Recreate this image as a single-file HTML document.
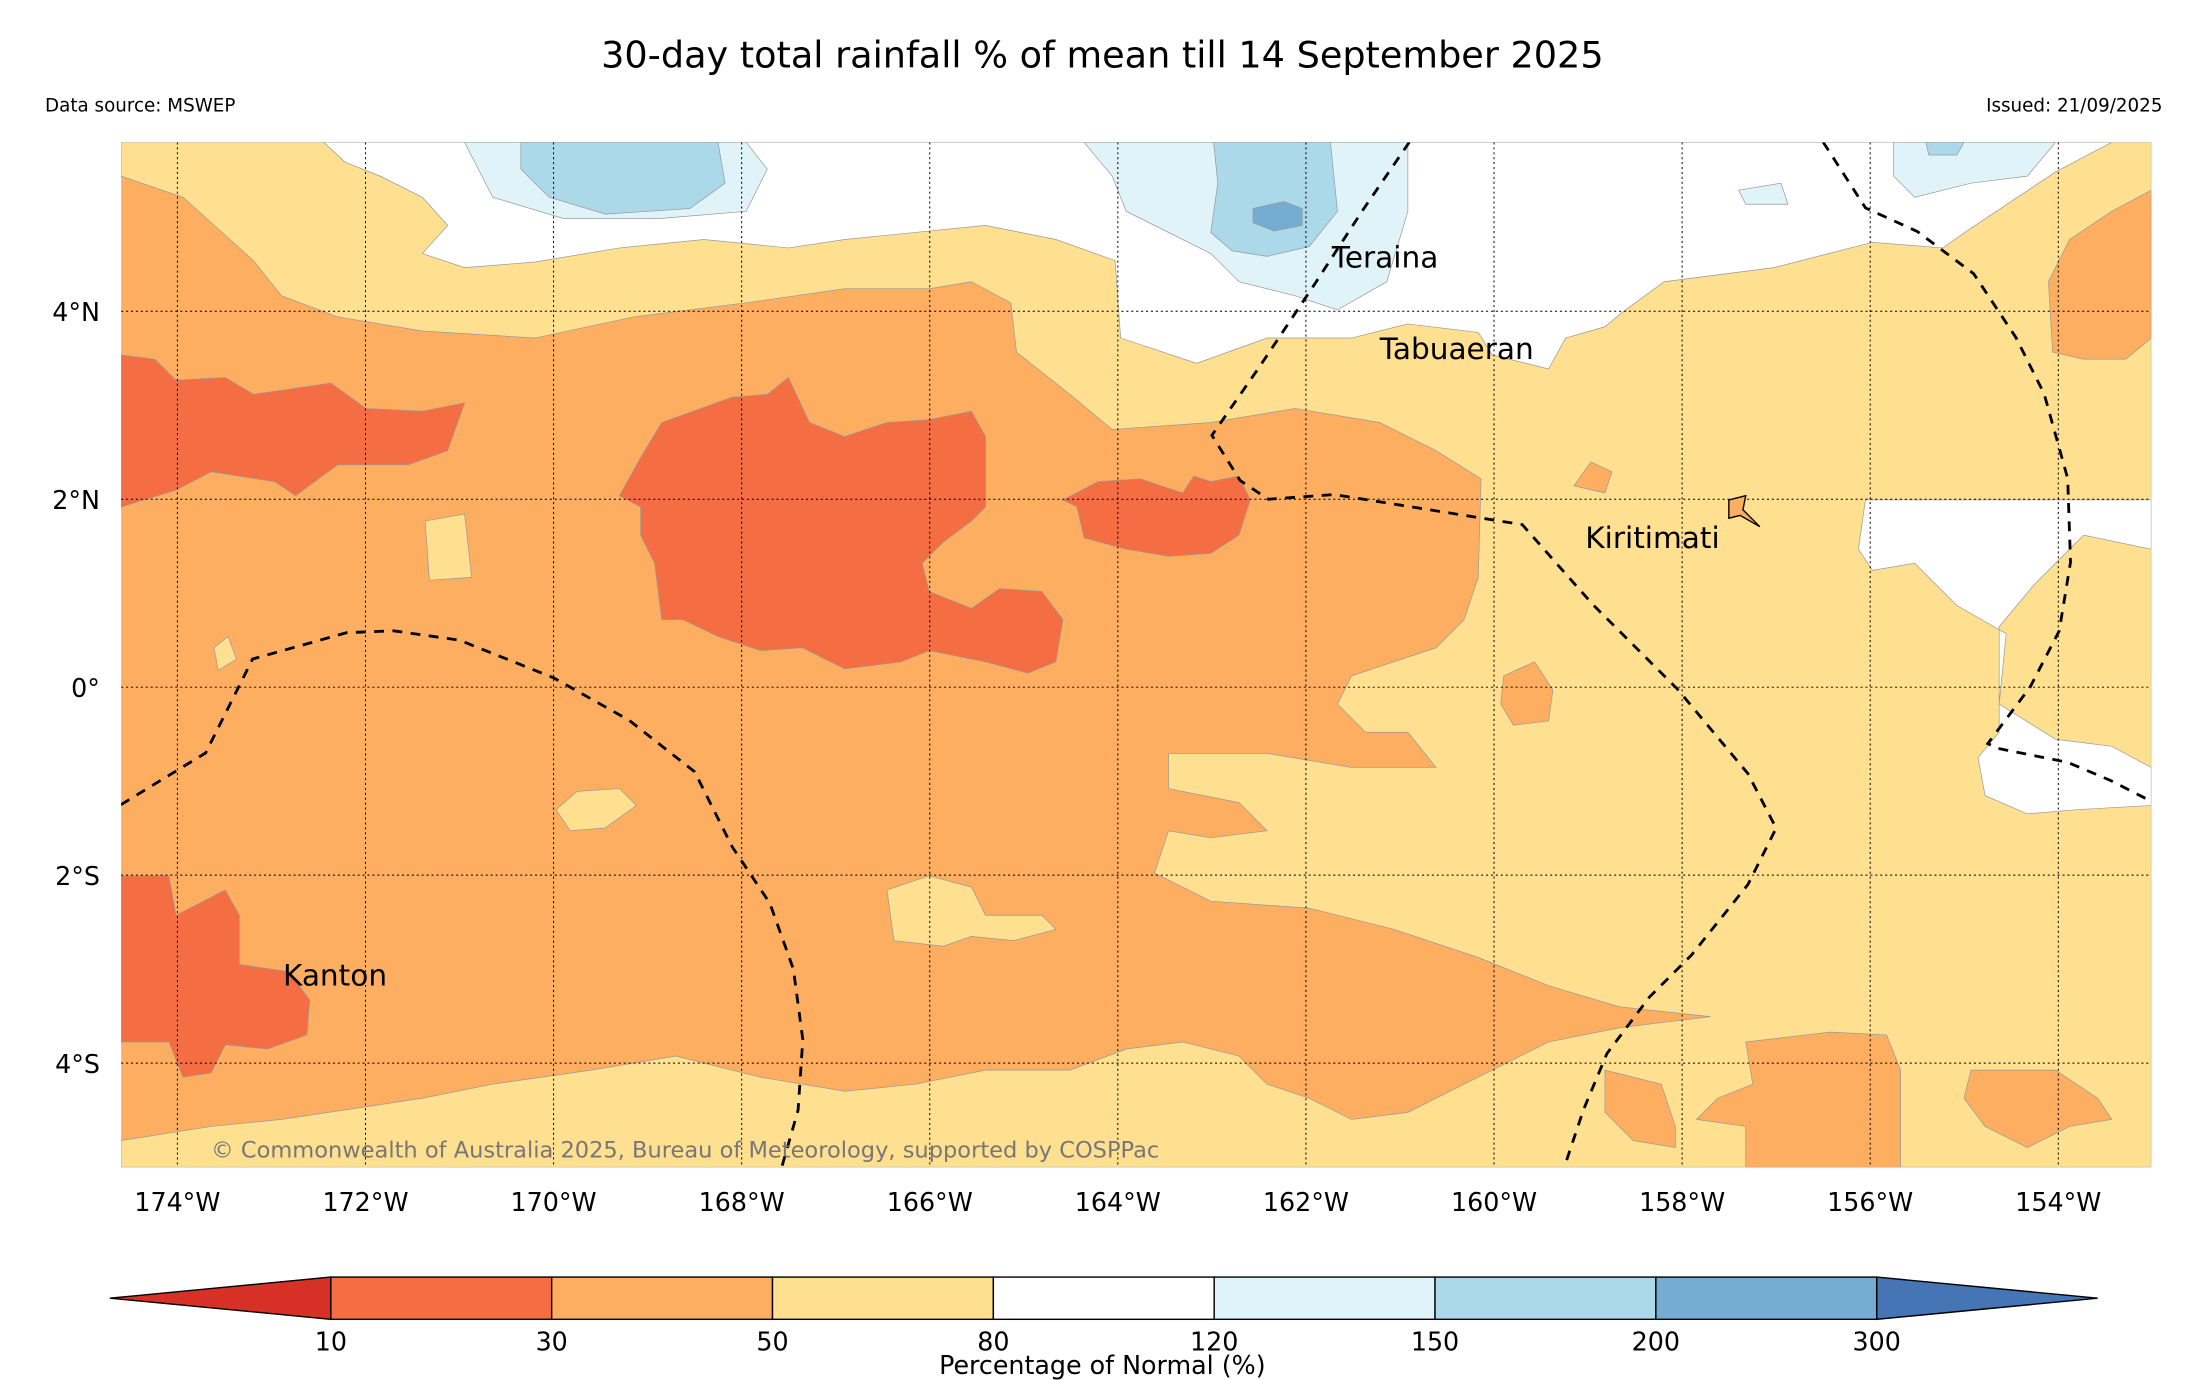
<!DOCTYPE html>
<html><head><meta charset="utf-8"><style>
html,body{margin:0;padding:0;background:#fff}
svg{display:block}
text{font-family:"DejaVu Sans","Liberation Sans",sans-serif}
</style></head><body>
<svg id="chart" width="2185" height="1380" viewBox="0 0 1552 980" xmlns="http://www.w3.org/2000/svg">
<text x="783" y="48" text-anchor="middle" font-size="26">30-day total rainfall % of mean till 14 September 2025</text>
<text x="32" y="79" font-size="13">Data source: MSWEP</text>
<text x="1536" y="79" font-size="13" text-anchor="end">Issued: 21/09/2025</text>
<defs><clipPath id="mc"><rect x="86" y="101" width="1442" height="728"/></clipPath></defs>
<g id="map" clip-path="url(#mc)">
<rect x="86" y="101" width="1442" height="728" fill="#fdae61"/>
<path fill="#fee090" stroke="#999" stroke-width="0.5" d="M86,101 L1528,101 L1528,829 L86,829 L86,810 L150,800 L200,795 L300,780 L350,770 L420,760 L480,750 L540,765 L600,775 L650,770 L700,760 L760,760 L800,745 L840,740 L880,750 L900,770 L930,780 L960,795 L1000,790 L1060,760 L1100,740 L1150,730 L1215,722 L1150,715 L1100,700 L1050,680 L990,660 L930,645 L860,640 L820,620 L830,590 L860,595 L900,590 L880,570 L830,560 L830,535 L900,535 L960,545 L1020,545 L1000,520 L970,520 L950,500 L960,480 L990,470 L1020,460 L1040,440 L1050,410 L1052,340 L1020,320 L980,300 L920,290 L860,300 L790,305 L760,280 L722,250 L718,215 L690,200 L660,205 L600,205 L530,215 L450,225 L380,240 L300,235 L240,225 L200,210 L180,185 L130,140 L86,125 Z"/>
<path fill="#fdae61" stroke="#999" stroke-width="0.5" d="M1528,135 L1500,150 L1470,170 L1455,200 L1458,250 L1480,255 L1510,255 L1528,240 Z"/>
<path fill="#fdae61" stroke="#999" stroke-width="0.5" d="M1240,740 L1300,733 L1340,735 L1350,760 L1350,829 L1240,829 L1240,800 L1205,795 L1220,780 L1245,770 Z M1400,760 L1460,760 L1490,780 L1500,795 L1470,800 L1440,815 L1410,800 L1395,780 Z M1068,480 L1090,470 L1103,490 L1100,512 L1075,515 L1066,500 Z M1118,345 L1130,328 L1145,335 L1140,350 Z M1140,760 L1180,770 L1190,800 L1190,815 L1160,810 L1140,790 Z"/>
<path fill="#ffffff" stroke="#999" stroke-width="0.5" d="M230,101 L245,115 L270,125 L300,140 L318,160 L300,180 L330,190 L380,186 L440,176 L500,170 L560,176 L600,170 L700,160 L750,170 L792,185 L796,240 L850,258 L900,240 L960,240 L1000,230 L1050,236 L1060,252 L1100,262 L1112,240 L1140,232 L1152,222 L1182,200 L1260,190 L1330,172 L1380,176 L1400,162 L1460,122 L1500,101 Z M1325,355 L1528,355 L1528,390 L1480,380 L1445,415 L1420,445 L1420,520 L1405,538 L1410,565 L1440,578 L1475,575 L1528,572 L1528,545 L1500,530 L1460,525 L1420,500 L1425,450 L1390,430 L1360,400 L1330,405 L1320,390 Z"/>
<path fill="#e0f3f8" stroke="#999" stroke-width="0.5" d="M330,101 L530,101 L545,120 L530,150 L470,155 L400,155 L350,140 Z M770,101 L1000,101 L1000,150 L985,200 L950,220 L920,210 L880,200 L860,180 L800,150 L790,125 Z M1345,101 L1460,101 L1440,125 L1400,130 L1360,140 L1345,125 Z M1235,135 L1265,130 L1270,145 L1240,145 Z"/>
<path fill="#abd9e9" stroke="#999" stroke-width="0.5" d="M370,101 L510,101 L515,130 L490,148 L430,152 L390,140 L370,120 Z M862,101 L945,101 L950,150 L930,175 L900,182 L875,178 L860,165 L865,130 Z M1368,101 L1395,101 L1390,110 L1370,110 Z"/>
<path fill="#74add1" stroke="#999" stroke-width="0.5" d="M890,148 L912,143 L925,148 L925,160 L905,164 L890,158 Z"/>
<path fill="#fee090" stroke="#999" stroke-width="0.5" d="M302,370 L330,365 L335,410 L305,412 Z M395,575 L410,562 L440,560 L452,572 L430,588 L405,590 Z M630,632 L660,622 L690,630 L700,650 L740,650 L750,660 L720,668 L690,665 L670,672 L635,668 Z M152,460 L162,452 L168,468 L155,476 Z"/>
<path fill="#f46d43" stroke="#999" stroke-width="0.5" d="M86,252 L110,255 L125,270 L160,268 L180,280 L235,272 L260,290 L300,292 L330,286 L318,320 L290,330 L240,330 L210,352 L195,342 L150,335 L125,348 L86,360 Z M440,352 L455,325 L470,300 L520,282 L545,280 L560,268 L575,300 L600,310 L630,300 L660,298 L690,292 L700,310 L700,360 L690,370 L670,385 L655,400 L660,420 L690,432 L710,418 L740,420 L755,440 L750,470 L730,478 L700,470 L660,462 L640,470 L600,475 L570,460 L540,462 L510,452 L485,440 L470,440 L465,400 L455,380 L455,360 Z M755,355 L780,342 L810,340 L840,350 L848,338 L860,342 L880,338 L888,355 L880,380 L860,393 L830,395 L800,390 L770,382 L765,360 Z M86,622 L120,622 L125,650 L160,632 L170,650 L170,685 L205,690 L220,710 L218,735 L190,745 L160,742 L150,762 L130,765 L120,740 L86,740 Z"/>
<g id="grid"></g>
<g id="eez"></g>
</g>
<text x="946" y="190" font-size="21">Teraina</text>
<text x="980" y="255" font-size="21">Tabuaeran</text>
<text x="1126" y="389" font-size="21">Kiritimati</text>
<text x="201" y="700" font-size="21">Kanton</text>
<path d="M1228,355 L1240,352 L1238,362 L1250,374 L1236,366 L1228,368 Z" fill="#fdae61" stroke="#000" stroke-width="1"/>
<text x="150" y="822" font-size="16" fill="#777">© Commonwealth of Australia 2025, Bureau of Meteorology, supported by COSPPac</text>
<g id="axes"></g>
<g id="cbar"></g>
<text x="783" y="976" font-size="18" text-anchor="middle">Percentage of Normal (%)</text>
</svg>
<script>
const lonTicks=[174,172,170,168,166,164,162,160,158,156,154];
const latTicks=[4,2,0,-2,-4];
const cbBounds=[10,30,50,80,120,150,200,300];
const cbColors=["#f46d43","#fdae61","#fee090","#ffffff","#e0f3f8","#abd9e9","#74add1"];
const cbUnder="#d73027", cbOver="#4575b4";
const eez1=[[-174.6,-1.25],[-173.7,-0.7],[-173.2,0.3],[-172.2,0.58],[-171.7,0.6],[-171,0.5],[-170,0.1],[-169.2,-0.35],[-168.5,-0.9],[-168.1,-1.7],[-167.7,-2.3],[-167.45,-3],[-167.35,-3.75],[-167.4,-4.5],[-167.6,-5.2]];
const eez2=[[-160.9,5.8],[-161.4,5.07],[-161.9,4.3],[-162.5,3.4],[-163,2.68],[-162.7,2.2],[-162.4,2],[-161.7,2.05],[-159.7,1.73],[-158.95,0.88],[-158.05,-0.02],[-157.3,-0.92],[-157,-1.5],[-157.3,-2.1],[-157.9,-2.85],[-158.35,-3.3],[-158.8,-3.9],[-159.05,-4.5],[-159.25,-5.1]];
const eez3=[[-156.5,5.8],[-156.05,5.1],[-155.5,4.85],[-154.9,4.4],[-154.45,3.72],[-154.15,3.12],[-153.9,2.22],[-153.87,1.33],[-153.99,0.6],[-154.3,0],[-154.75,-0.6],[-154.65,-0.65],[-153.9,-0.8],[-153.45,-0.99],[-153,-1.22]];
const NS="http://www.w3.org/2000/svg";
function xOf(lon){return 126+(lon+174)*66.8;}
function yOf(lat){return 488-lat/2*133.5;}
function mk(tag,attrs,parent){const e=document.createElementNS(NS,tag);for(const k in attrs)e.setAttribute(k,attrs[k]);parent.appendChild(e);return e;}
const grid=document.getElementById('grid'),axes=document.getElementById('axes');
lonTicks.forEach(w=>{const x=xOf(-w);
 const l=mk('line',{x1:x,x2:x,y1:101,y2:829,stroke:'#000','stroke-width':0.7,'stroke-dasharray':'1.5,2'},grid);
 
 
 const t=mk('text',{x:x,y:860,'font-size':18,'text-anchor':'middle'},axes);t.textContent=w+'°W';
 
 
});
latTicks.forEach(v=>{const y=yOf(v);
 const l=mk('line',{x1:86,x2:1528,y1:y,y2:y,stroke:'#000','stroke-width':0.7,'stroke-dasharray':'1.5,2'},grid);
 
 
 const t=mk('text',{x:71,y:y+7,'font-size':18,'text-anchor':'end'},axes);t.textContent=v===0?'0°':Math.abs(v)+'°'+(v>0?'N':'S');
 
 
});
const eez=document.getElementById('eez');
[eez1,eez2,eez3].forEach((ln,i)=>{
 const p=mk('polyline',{points:ln.map(q=>xOf(q[0])+','+yOf(q[1])).join(' '),fill:'none',stroke:'#000','stroke-width':2,'stroke-dasharray':'7,6'},eez);
 
 
});
const cb=document.getElementById('cbar');
const cx0=235,cw=(1333-235)/(cbBounds.length-1),cy=907,ch=30;
const under=mk('polygon',{points:`78,${cy+ch/2} ${cx0},${cy} ${cx0},${cy+ch}`,fill:cbUnder,stroke:'#000','stroke-width':1},cb);


const xe=cx0+cw*(cbBounds.length-1);
const over=mk('polygon',{points:`${xe},${cy} 1490,${cy+ch/2} ${xe},${cy+ch}`,fill:cbOver,stroke:'#000','stroke-width':1},cb);


cbColors.forEach((c,i)=>{
 const r=mk('rect',{x:cx0+i*cw,y:cy,width:cw,height:ch,fill:c,stroke:'#000','stroke-width':1},cb);
 
 
});
cbBounds.forEach((b,i)=>{
 const t=mk('text',{x:cx0+i*cw,y:959,'font-size':18,'text-anchor':'middle'},cb);t.textContent=b;
 
 
});
</script>
</body></html>
